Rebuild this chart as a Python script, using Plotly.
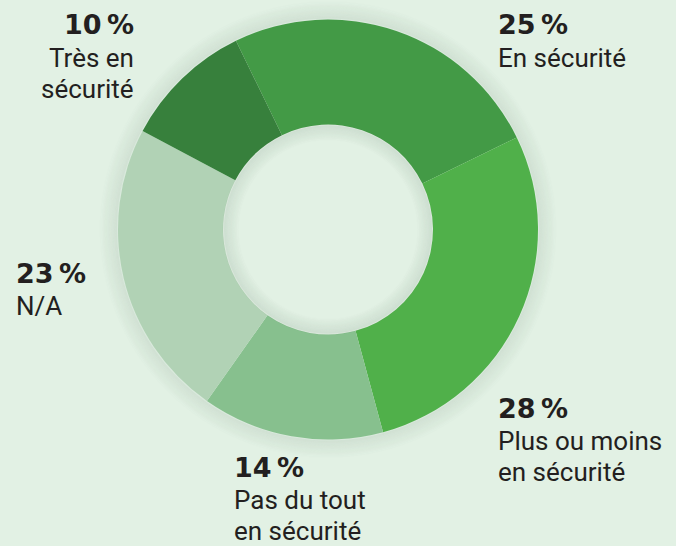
import plotly.graph_objects as go

# ---- data ----
categories = ["En sécurité", "Plus ou moins<br>en sécurité", "Pas du tout<br>en sécurité", "N/A", "Très en<br>sécurité"]
values = [25, 28, 14, 23, 10]
pct_labels = ["25\u202f%", "28\u202f%", "14\u202f%", "23\u202f%", "10\u202f%"]
colors = ["#439a46", "#50b04a", "#87c08e", "#b1d2b5", "#37803c"]

W, H = 676, 546
BG = "#e2f1e4"
CX, CY, R, RIN = 328, 229.5, 210, 105

def px(x):
    return x / W

def py(y):
    return 1 - y / H

fig = go.Figure()
fig.add_trace(go.Pie(
    labels=categories,
    values=values,
    hole=RIN / R,
    sort=False,
    direction="clockwise",
    rotation=-26,
    marker=dict(colors=colors, line=dict(width=0)),
    textinfo="none",
    hoverinfo="skip",
    showlegend=False,
    domain=dict(x=[px(CX - R), px(CX + R)], y=[py(CY + R), py(CY - R)]),
))

shapes = []
# outer soft shadow (stroked rings, darker near the donut)
for k in range(14):
    rr = R + 1 + k * 1.3
    op = 0.05 * (1 - k / 14)
    shapes.append(dict(type="circle", xref="paper", yref="paper", layer="below",
                       x0=px(CX - rr), x1=px(CX + rr), y0=py(CY + rr), y1=py(CY - rr),
                       line=dict(color="rgba(60,90,70,%.3f)" % op, width=2.6), fillcolor="rgba(0,0,0,0)"))
# inner shadow in the hole
for k in range(12):
    rr = RIN - 1 - k * 1.3
    op = 0.06 * (1 - k / 12)
    shapes.append(dict(type="circle", xref="paper", yref="paper", layer="above",
                       x0=px(CX - rr), x1=px(CX + rr), y0=py(CY + rr), y1=py(CY - rr),
                       line=dict(color="rgba(60,90,70,%.3f)" % op, width=2.6), fillcolor="rgba(0,0,0,0)"))

FONT = "Roboto"
PFONT = "DejaVu Sans"
TXT = "#231f20"
LSIZE = 26
# label anchor positions: (x px, baseline of percent px, align)
label_pos = [
    (496, 35, "left"),
    (496, 418, "left"),
    (232, 477, "left"),
    (14, 283, "left"),
    (136, 35, "right"),
]
annotations = []
for pct, cat, (x, base, al) in zip(pct_labels, categories, label_pos):
    xa = "left" if al == "left" else "right"
    annotations.append(dict(
        x=px(x), y=py(base - 10), xref="paper", yref="paper", xanchor=xa, yanchor="middle",
        text="<b>%s</b>" % pct, showarrow=False, align=al,
        font=dict(family=PFONT, size=27, color=TXT)))
    for i, line in enumerate(cat.split("<br>")):
        bl = base + 32 + 31 * i
        annotations.append(dict(
            x=px(x), y=py(bl - 0.35 * LSIZE), xref="paper", yref="paper", xanchor=xa, yanchor="middle",
            text=line, showarrow=False, align=al,
            font=dict(family=FONT, size=LSIZE, color=TXT)))

fig.update_layout(
    width=W, height=H,
    margin=dict(l=0, r=0, t=0, b=0),
    paper_bgcolor=BG, plot_bgcolor=BG,
    shapes=shapes,
    annotations=annotations,
)
fig.write_html("out.html", config={"displayModeBar": False},
               post_script="document.body.style.margin='0';document.body.style.background='%s';" % BG)
